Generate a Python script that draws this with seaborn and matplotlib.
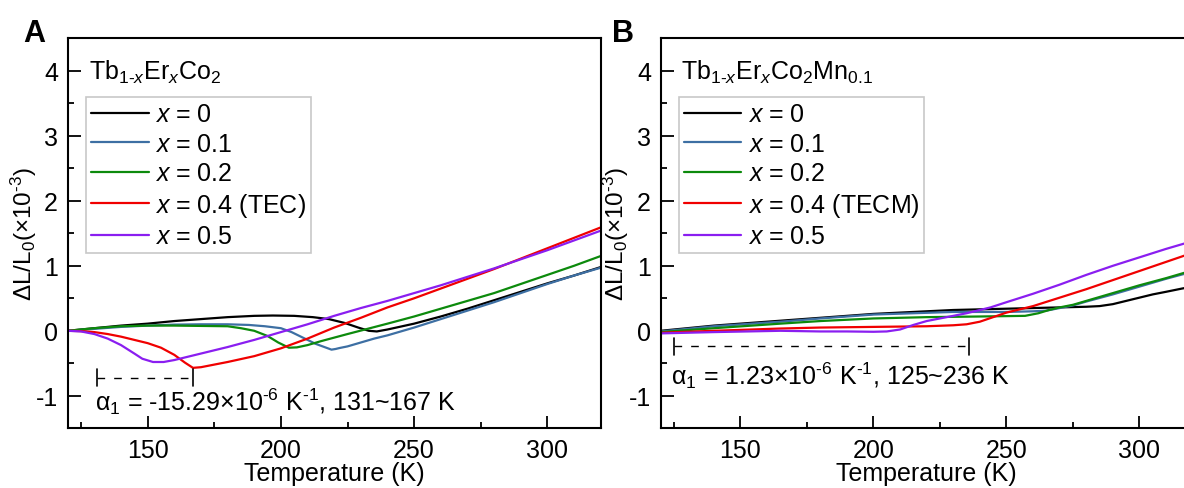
import numpy as np
import pandas as pd
import matplotlib
matplotlib.use('Agg')
import matplotlib.pyplot as plt
import seaborn as sns
from matplotlib.ticker import MultipleLocator

# ---------------- data ----------------
# Panel A: Tb1-xErxCo2
A_T_x0 = [120, 130, 140, 150, 160, 170, 180, 190, 197, 205, 212, 218, 224, 229, 233, 236, 240, 250, 260, 270, 280, 290, 300, 310, 320]
A_y_x0 = [0, 0.04, 0.08, 0.11, 0.15, 0.18, 0.21, 0.23, 0.235, 0.23, 0.21, 0.18, 0.12, 0.05, 0.0, -0.01, 0.02, 0.11, 0.22, 0.34, 0.47, 0.60, 0.73, 0.85, 0.98]

A_T_x1 = [120, 130, 140, 150, 160, 170, 180, 188, 194, 200, 204, 208, 213, 217, 219, 220.5, 222, 225, 230, 235, 240, 250, 260, 270, 280, 290, 300, 310, 320]
A_y_x1 = [0, 0.03, 0.06, 0.08, 0.095, 0.10, 0.10, 0.09, 0.07, 0.04, -0.02, -0.10, -0.20, -0.26, -0.29, -0.28, -0.265, -0.24, -0.18, -0.12, -0.07, 0.05, 0.18, 0.31, 0.44, 0.58, 0.72, 0.85, 0.97]

A_T_x2 = [120, 130, 140, 150, 160, 170, 180, 185, 190, 195, 199, 203, 206, 210, 215, 225, 240, 250, 260, 270, 280, 290, 300, 310, 320]
A_y_x2 = [0, 0.04, 0.07, 0.08, 0.08, 0.075, 0.07, 0.04, 0.0, -0.08, -0.18, -0.26, -0.255, -0.22, -0.16, -0.05, 0.11, 0.22, 0.34, 0.46, 0.58, 0.72, 0.86, 1.0, 1.15]

A_T_x4 = [120, 125, 130, 135, 140, 145, 150, 155, 160, 164, 167, 170, 180, 190, 200, 210, 220, 230, 240, 250, 260, 270, 280, 290, 300, 310, 320]
A_y_x4 = [0, -0.005, -0.02, -0.05, -0.09, -0.14, -0.19, -0.26, -0.37, -0.49, -0.57, -0.56, -0.48, -0.39, -0.27, -0.12, 0.05, 0.20, 0.36, 0.50, 0.65, 0.80, 0.95, 1.11, 1.27, 1.43, 1.59]

A_T_x5 = [120, 125, 130, 135, 140, 145, 148, 152, 156, 160, 170, 180, 190, 200, 210, 220, 230, 240, 250, 260, 270, 280, 290, 300, 310, 320]
A_y_x5 = [0, -0.01, -0.05, -0.12, -0.22, -0.35, -0.43, -0.48, -0.48, -0.45, -0.35, -0.25, -0.14, -0.02, 0.10, 0.23, 0.35, 0.46, 0.58, 0.70, 0.83, 0.96, 1.10, 1.24, 1.39, 1.54]

# Panel B: Tb1-xErxCo2Mn0.1
B_T_x0 = [120, 130, 140, 150, 160, 170, 180, 190, 200, 210, 220, 230, 240, 250, 260, 270, 280, 285, 290, 295, 300, 305, 310, 316, 320]
B_y_x0 = [0, 0.04, 0.08, 0.11, 0.14, 0.17, 0.20, 0.23, 0.26, 0.28, 0.30, 0.32, 0.33, 0.34, 0.35, 0.36, 0.37, 0.38, 0.41, 0.46, 0.51, 0.56, 0.60, 0.65, 0.68]

B_T_x1 = [120, 140, 165, 180, 200, 215, 230, 250, 260, 265, 270, 275, 280, 290, 300, 310, 320]
B_y_x1 = [-0.01, 0.07, 0.14, 0.19, 0.25, 0.27, 0.29, 0.29, 0.30, 0.31, 0.35, 0.39, 0.45, 0.56, 0.68, 0.80, 0.91]

B_T_x2 = [120, 140, 165, 180, 200, 220, 240, 257, 262, 266, 270, 275, 280, 290, 300, 310, 320]
B_y_x2 = [-0.02, 0.04, 0.11, 0.15, 0.19, 0.21, 0.22, 0.23, 0.27, 0.32, 0.36, 0.40, 0.46, 0.58, 0.70, 0.81, 0.93]

B_T_x4 = [120, 140, 165, 180, 200, 220, 230, 235, 240, 245, 250, 260, 270, 280, 290, 300, 310, 320]
B_y_x4 = [-0.03, 0.0, 0.035, 0.05, 0.06, 0.07, 0.085, 0.10, 0.14, 0.21, 0.28, 0.38, 0.51, 0.64, 0.78, 0.92, 1.06, 1.20]

B_T_x5 = [120, 140, 165, 180, 190, 200, 205, 210, 215, 220, 230, 235, 240, 244, 250, 260, 270, 280, 290, 300, 310, 320]
B_y_x5 = [-0.04, -0.02, 0.0, -0.01, -0.01, -0.015, -0.01, 0.02, 0.09, 0.15, 0.23, 0.27, 0.32, 0.36, 0.44, 0.57, 0.71, 0.86, 1.00, 1.13, 1.26, 1.38]

labels_A = [r'$x$ = 0', r'$x$ = 0.1', r'$x$ = 0.2', r'$x$ = 0.4 (TEC)', r'$x$ = 0.5']
labels_B = [r'$x$ = 0', r'$x$ = 0.1', r'$x$ = 0.2', r'$x$ = 0.4 (TECM)', r'$x$ = 0.5']
colors = ['#000000', '#3d6fa3', '#0c8a0c', '#f00000', '#8a1ef0']

# annotation values
A_range = [131, 167]
B_range = [125, 236]
A_note = r'α$_1$ = -15.29×10$^{\text{-6}}$ K$^{\text{-1}}$, 131~167 K'
B_note = r'α$_1$ = 1.23×10$^{\text{-6}}$ K$^{\text{-1}}$, 125~236 K'
A_title = r'Tb$_{1\text{-}x}$Er$_x$Co$_2$'
B_title = r'Tb$_{1\text{-}x}$Er$_x$Co$_2$Mn$_{0.1}$'

# ---------------- style ----------------
sns.set_style('white')
plt.rcParams['font.family'] = ['Liberation Sans', 'DejaVu Sans']
plt.rcParams['mathtext.fontset'] = 'custom'
plt.rcParams['mathtext.rm'] = 'Liberation Sans'
plt.rcParams['mathtext.it'] = 'Liberation Sans:italic'
plt.rcParams['mathtext.bf'] = 'Liberation Sans:bold'
plt.rcParams['axes.unicode_minus'] = False
plt.rcParams['text.color'] = 'black'
plt.rcParams['axes.labelcolor'] = 'black'
plt.rcParams['xtick.color'] = 'black'
plt.rcParams['ytick.color'] = 'black'


def make_df(Ts, ys, labels):
    frames = []
    for T, y, lab in zip(Ts, ys, labels):
        frames.append(pd.DataFrame({'T': T, 'dL': y, 'series': lab}))
    return pd.concat(frames, ignore_index=True)


dfA = make_df([A_T_x0, A_T_x1, A_T_x2, A_T_x4, A_T_x5],
              [A_y_x0, A_y_x1, A_y_x2, A_y_x4, A_y_x5], labels_A)
dfB = make_df([B_T_x0, B_T_x1, B_T_x2, B_T_x4, B_T_x5],
              [B_y_x0, B_y_x1, B_y_x2, B_y_x4, B_y_x5], labels_B)

fig = plt.figure(figsize=(11.84, 4.89), dpi=100)
axA = fig.add_axes([0.0572, 0.1221, 0.4501, 0.7975])
axB = fig.add_axes([0.5580, 0.1221, 0.4493, 0.7975])


def style_panel(ax, df, labels, title, rng, yline, note, note_y, note_x):
    sns.lineplot(data=df, x='T', y='dL', hue='series', hue_order=labels,
                 palette=dict(zip(labels, colors)), estimator=None, sort=False,
                 linewidth=1.6, ax=ax)
    ax.set_xlim(120, 320)
    ax.set_ylim(-1.5, 4.5)
    ax.xaxis.set_major_locator(MultipleLocator(50))
    ax.xaxis.set_minor_locator(MultipleLocator(25))
    ax.yaxis.set_major_locator(MultipleLocator(1))
    ax.yaxis.set_minor_locator(MultipleLocator(0.5))
    ax.tick_params(which='both', direction='in', width=1.3, colors='black',
                   bottom=True, left=True, top=False, right=False)
    ax.tick_params(which='major', length=9, labelsize=18, pad=7)
    ax.tick_params(which='minor', length=4.5)
    for s in ax.spines.values():
        s.set_linewidth(1.5)
        s.set_color('black')
    ax.set_xlabel('Temperature (K)', fontsize=18, labelpad=-1)
    ax.set_ylabel(r'ΔL/L$_0$(×10$^{\text{-3}}$)', fontsize=17.5, labelpad=-2)
    ax.text(0.039, 0.896, title, transform=ax.transAxes, fontsize=18,
            va='baseline', ha='left')
    h, l = ax.get_legend_handles_labels()
    leg = ax.legend(h, l, loc='upper left', bbox_to_anchor=(0.0343, 0.8487),
                    borderaxespad=0, frameon=True, fancybox=False,
                    edgecolor='#c8c8c8', framealpha=1, fontsize=18,
                    handlelength=2.3, handletextpad=0.25, labelspacing=0.22,
                    borderpad=0.2)
    leg.get_frame().set_linewidth(1.2)
    # range marker
    ax.plot(rng, [yline, yline], color='black', lw=1.0, ls=(0, (5.5, 6.5)))
    for xv in rng:
        ax.plot([xv, xv], [yline - 0.135, yline + 0.135], color='black', lw=1.2)
    ax.text(note_x, note_y, note, fontsize=18, va='baseline', ha='left')


style_panel(axA, dfA, labels_A, A_title, A_range, -0.72, A_note, -1.22, 130.4)
style_panel(axB, dfB, labels_B, B_title, B_range, -0.24, B_note, -0.81, 123.9)
axB.spines['right'].set_visible(False)

fig.text(0.0194, 0.914, 'A', fontsize=22, fontweight='bold', va='baseline')
fig.text(0.5166, 0.914, 'B', fontsize=22, fontweight='bold', va='baseline')

fig.savefig('out.png', dpi=100)
